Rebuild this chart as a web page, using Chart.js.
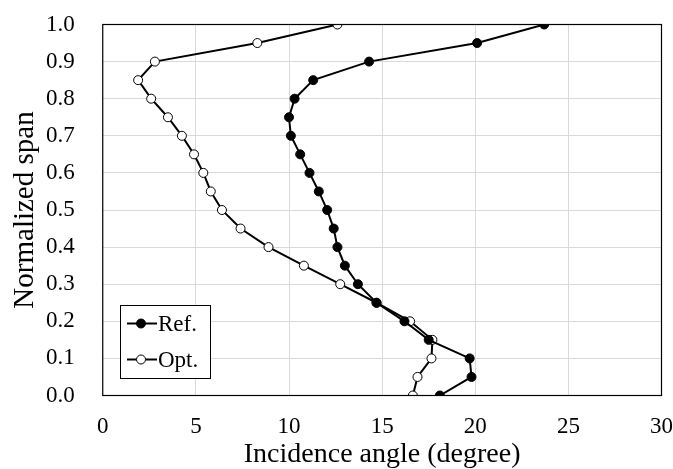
<!DOCTYPE html>
<html>
<head>
<meta charset="utf-8">
<script src="https://cdn.jsdelivr.net/npm/chart.js@4/dist/chart.umd.min.js"></script>
<style>
  html, body { margin: 0; padding: 0; background: #fff; }
  #wrap { width: 673px; height: 469px; }
</style>
</head>
<body>
<div id="wrap"><canvas id="chart" width="673" height="469"></canvas></div>
<script>
// normalized span positions (shared by both series)
const span = [1.0, 0.95, 0.9, 0.85, 0.8, 0.75, 0.7, 0.65, 0.6, 0.55, 0.5,
              0.45, 0.4, 0.35, 0.3, 0.25, 0.2, 0.15, 0.1, 0.05, 0.0];
// incidence angle (degree)
const refAngle = [23.7, 20.1, 14.3, 11.3, 10.3, 10.0, 10.1, 10.6, 11.1, 11.6, 12.05,
                  12.4, 12.6, 13.0, 13.7, 14.7, 16.2, 17.5, 19.7, 19.8, 18.1];
const optAngle = [12.6, 8.3, 2.8, 1.9, 2.6, 3.5, 4.25, 4.9, 5.4, 5.8, 6.4,
                  7.4, 8.9, 10.8, 12.75, 14.7, 16.5, 17.7, 17.65, 16.9, 16.65];
const seriesNames = ["Ref.", "Opt."];

const font = "'Liberation Serif', 'Times New Roman', serif";

function toPoints(xs) {
  const pts = [];
  for (let i = 0; i < xs.length; i++) {
    pts.push({ x: xs[i], y: span[i] });
  }
  return pts;
}

// frame around the plot area + legend box in lower left
const framePlugin = {
  id: "frame",
  afterDraw(chart) {
    const ctx = chart.ctx;
    const a = chart.chartArea;
    ctx.save();
    ctx.strokeStyle = "#000";
    ctx.lineWidth = 1.2;
    ctx.strokeRect(a.left, a.top, a.right - a.left, a.bottom - a.top);

    // legend
    const bx = 120, by = 305, bw = 90, bh = 73;
    ctx.fillStyle = "#fff";
    ctx.fillRect(bx, by, bw, bh);
    ctx.strokeStyle = "#000";
    ctx.lineWidth = 1;
    ctx.strokeRect(bx + 0.5, by + 0.5, bw, bh);
    chart.data.datasets.forEach((ds, i) => {
      const cy = by + 18.5 + i * 36;
      ctx.strokeStyle = "#000";
      ctx.lineWidth = 2;
      ctx.beginPath();
      ctx.moveTo(bx + 7, cy);
      ctx.lineTo(bx + 37, cy);
      ctx.stroke();
      ctx.beginPath();
      ctx.arc(bx + 21, cy, 4.5, 0, Math.PI * 2);
      ctx.fillStyle = ds.pointBackgroundColor;
      ctx.fill();
      ctx.lineWidth = 1;
      ctx.stroke();
      ctx.fillStyle = "#000";
      ctx.font = "23px " + font;
      ctx.textBaseline = "middle";
      ctx.fillText(ds.label, bx + 38, cy + 1);
    });
    ctx.restore();
  }
};

new Chart(document.getElementById("chart"), {
  type: "scatter",
  data: {
    datasets: [
      {
        label: seriesNames[0],
        data: toPoints(refAngle),
        showLine: true,
        borderColor: "#000",
        borderWidth: 2,
        pointRadius: 4.5,
        pointBackgroundColor: "#000",
        pointBorderColor: "#000",
        pointBorderWidth: 1,
      },
      {
        label: seriesNames[1],
        data: toPoints(optAngle),
        showLine: true,
        borderColor: "#000",
        borderWidth: 2,
        pointRadius: 4.5,
        pointBackgroundColor: "#fff",
        pointBorderColor: "#000",
        pointBorderWidth: 1,
      },
    ],
  },
  options: {
    responsive: false,
    animation: false,
    layout: { padding: { top: 24.5, right: 10, left: 7, bottom: 0 } },
    plugins: {
      legend: { display: false },
      tooltip: { enabled: false },
    },
    scales: {
      x: {
        type: "linear",
        min: 0,
        max: 30,
        ticks: { stepSize: 5, color: "#000", font: { family: font, size: 23, lineHeight: 1 }, padding: 0 },
        grid: { color: "#d9d9d9", lineWidth: 1, drawTicks: true, tickLength: 19.5, tickColor: "rgba(0,0,0,0)" },
        border: { display: false },
        title: { display: true, text: "Incidence angle (degree)", color: "#000",
                 font: { family: font, size: 28, lineHeight: 1 }, padding: { top: 3, bottom: 0 } },
      },
      y: {
        type: "linear",
        min: 0,
        max: 1.0,
        ticks: { stepSize: 0.1, color: "#000", font: { family: font, size: 23, lineHeight: 1 }, padding: 0,
                 callback: (v) => v.toFixed(1) },
        grid: { color: "#d9d9d9", lineWidth: 1, drawTicks: true, tickLength: 28, tickColor: "rgba(0,0,0,0)" },
        border: { display: false },
        title: { display: true, text: "Normalized span", color: "#000",
                 font: { family: font, size: 29, lineHeight: 1 }, padding: { top: 3.5, bottom: 6.5 } },
      },
    },
  },
  plugins: [framePlugin],
});
</script>
</body>
</html>
